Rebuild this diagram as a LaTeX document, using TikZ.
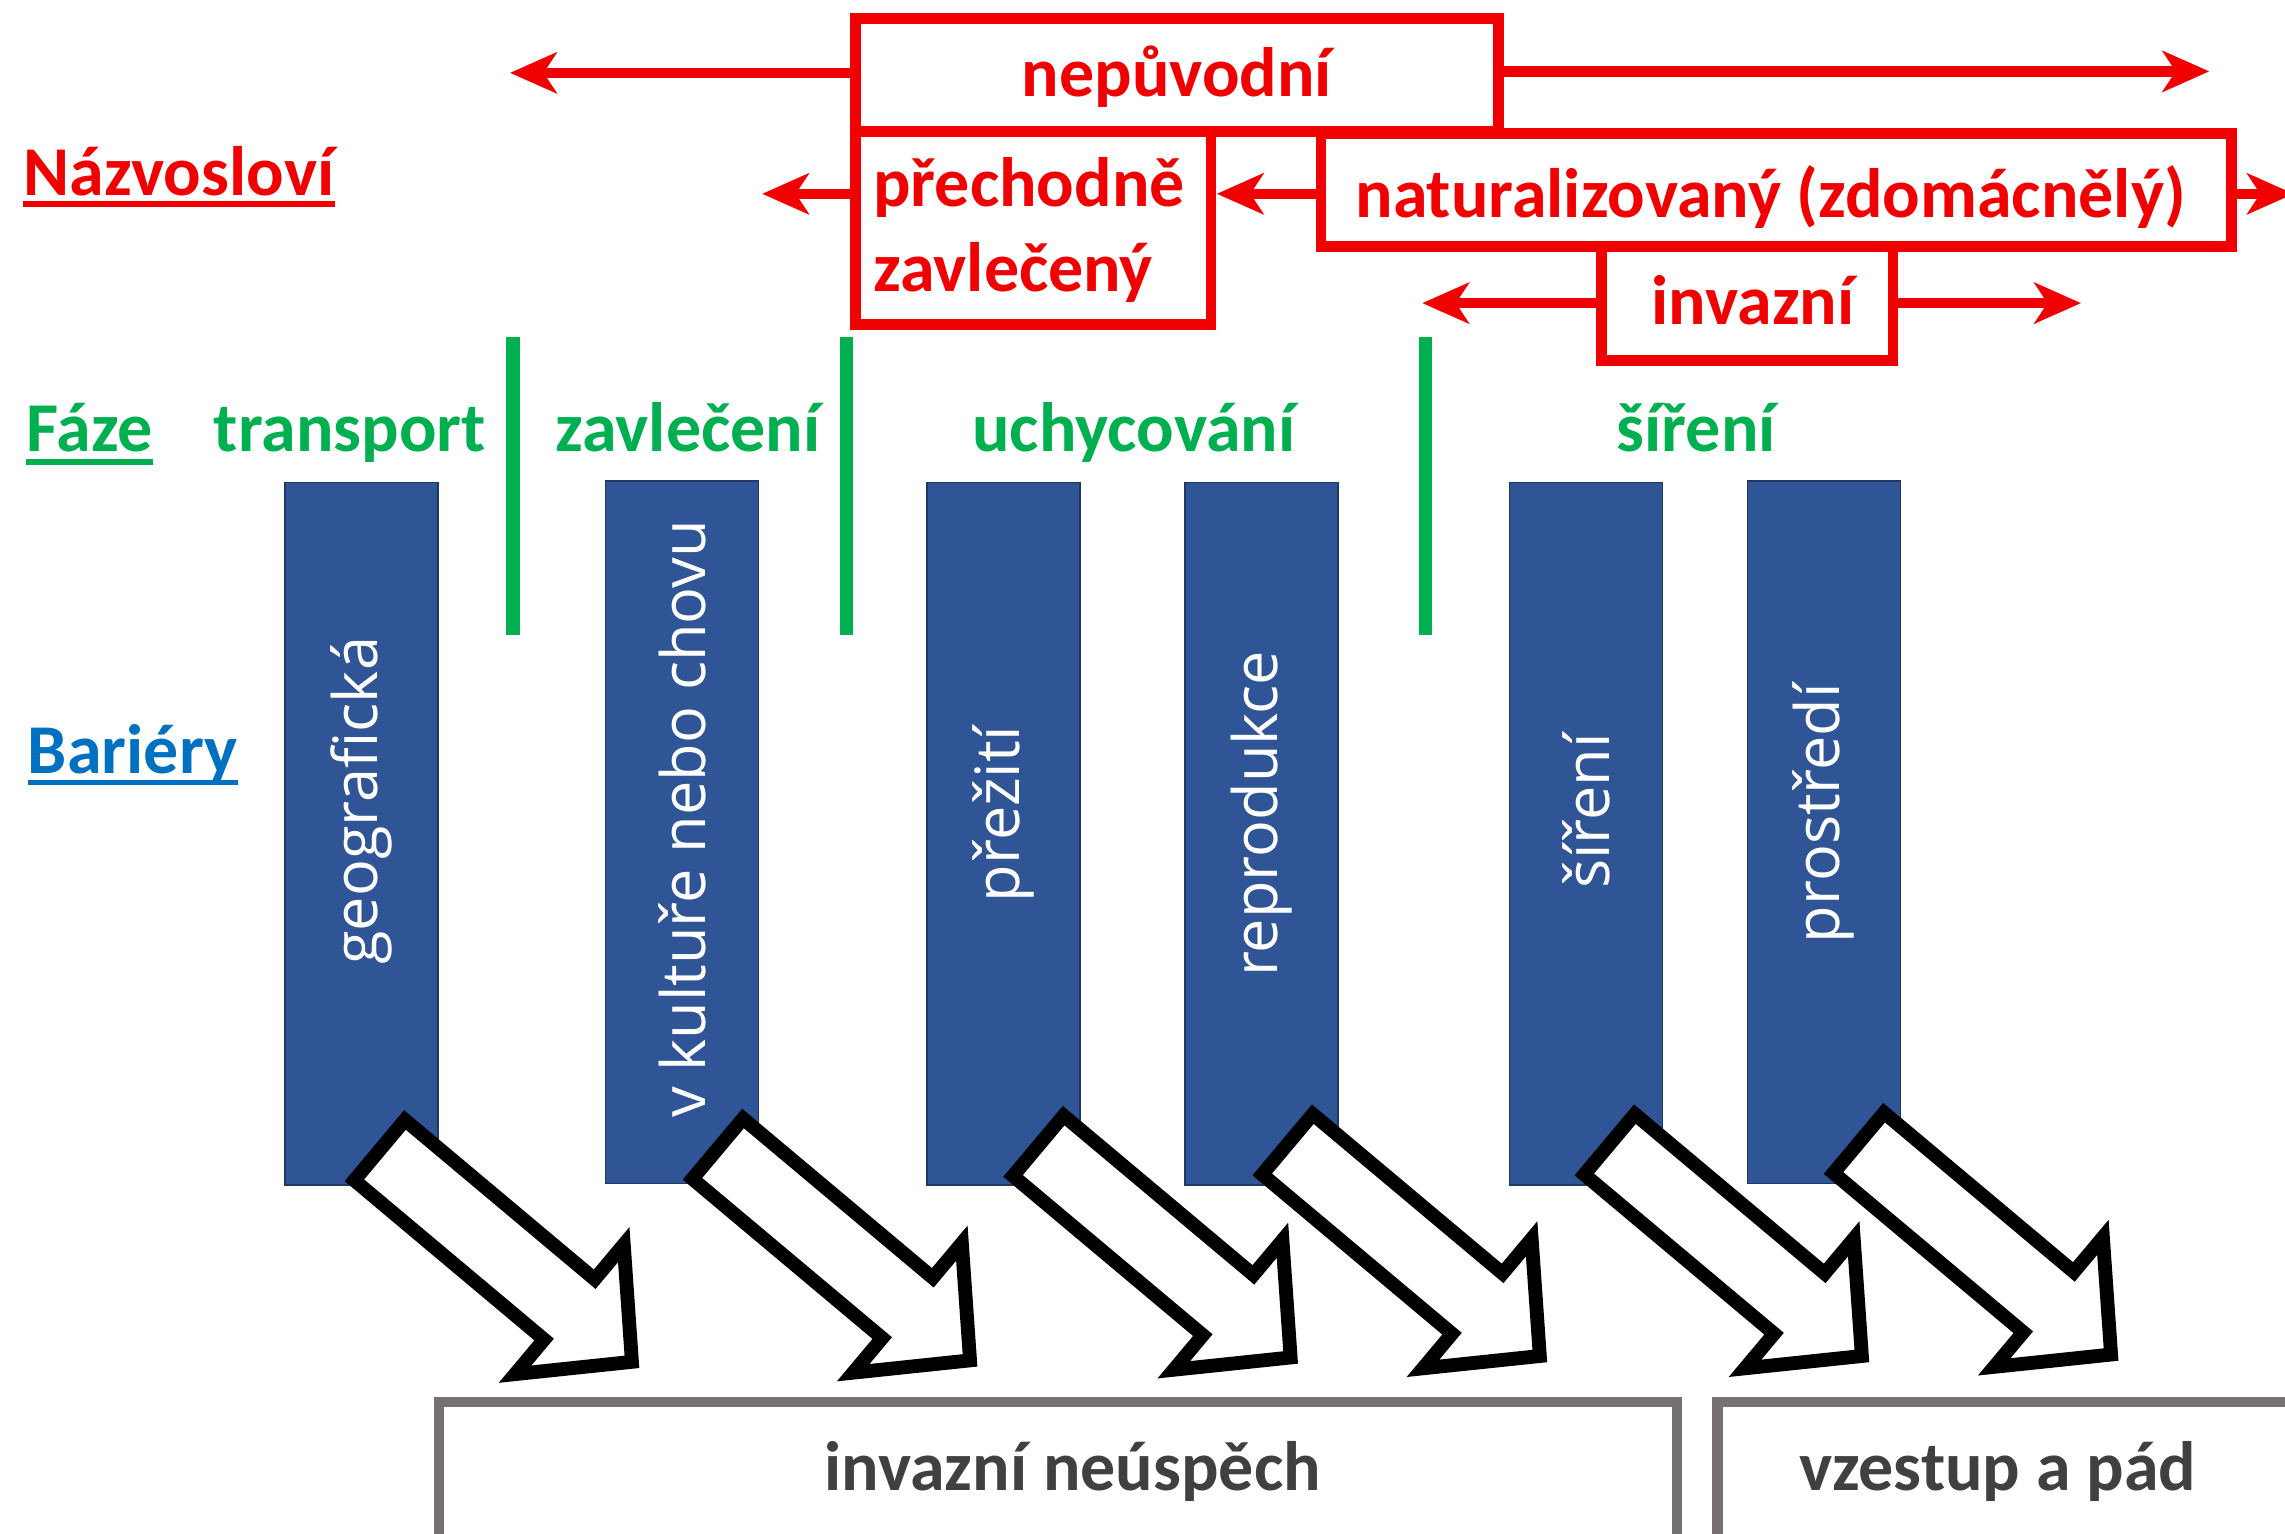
\documentclass[tikz,border=0pt]{standalone}
\usepackage{fontspec}
\setmainfont{Carlito}
\newfontfamily\barfont{Open Sans}
\usetikzlibrary{arrows.meta}
\definecolor{nred}{RGB}{240,0,0}
\definecolor{ngreen}{RGB}{0,176,80}
\definecolor{nblue}{RGB}{0,112,192}
\definecolor{barblue}{RGB}{47,85,151}
\definecolor{barline}{RGB}{32,56,100}
\definecolor{boxgray}{RGB}{118,113,113}
\definecolor{txtgray}{RGB}{64,64,64}
\begin{document}
\begin{tikzpicture}[x=1pt,y=-1pt,
  lbl/.style={inner sep=0pt, font=\fontsize{48}{58}\selectfont\bfseries, anchor=base},
  redlbl/.style={lbl, text=nred},
  greenlbl/.style={lbl, text=ngreen},
  redbox/.style={draw=nred, line width=7.5pt, inner sep=0pt},
  redarrow/.style={draw=nred, line width=7pt, -{Stealth[length=32pt,width=28pt,inset=9pt]}},
  gline/.style={draw=ngreen, line width=9pt},
  uline/.style={line width=3.5pt},
  bar/.style={fill=barblue, draw=barline, line width=1pt, minimum width=105pt, minimum height=482pt, inner sep=0pt},
  bartext/.style={text=white, font=\barfont\fontsize{42}{50}\selectfont, rotate=90, inner sep=0pt},
  hollow/.style={draw=black, fill=white, line width=9.5pt, line join=miter, miter limit=10},
  graybox/.style={draw=boxgray, line width=7pt, inner sep=0pt, anchor=north west},
  graylbl/.style={lbl, text=txtgray}
]
\useasboundingbox (0,0) rectangle (1568,1052);
\fill[white] (0,0) rectangle (1568,1052);
\clip (0,0) rectangle (1568,1052);

% row labels
\node[lbl, text=nred, anchor=base west] (hNaz) at (16,134) {Názvosloví};
\draw[uline, nred] ([yshift=-6pt]hNaz.base west) -- ([yshift=-6pt]hNaz.base east);
\node[lbl, text=ngreen, anchor=base west] (hFaz) at (18,310) {Fáze};
\draw[uline, ngreen] ([yshift=-7pt]hFaz.base west) -- ([yshift=-7pt]hFaz.base east);
\node[lbl, text=nblue, anchor=base west] (hBar) at (19,531) {Bariéry};
\draw[uline, nblue] ([yshift=-6pt]hBar.base west) -- ([yshift=-6pt]hBar.base east);

% red boxes
\node[redbox, minimum width=441pt, minimum height=77.5pt] (nep) at (807.5,51.25) {};
\node[redbox, minimum width=244pt, minimum height=132.5pt] (pre) at (709,156.25) {};
\node[redbox, minimum width=625pt, minimum height=77.5pt] (nat) at (1219,130.25) {};
\node[redbox, minimum width=200pt, minimum height=78.5pt] (inv) at (1199,208.25) {};

\node[redlbl] (nepT) at (807.5,66) {nepůvodní};
\node[redlbl, anchor=base west] (preT1) at (599,142) {přechodně};
\node[redlbl, anchor=base west] (preT2) at (599,200) {zavlečený};
\node[redlbl] (natT) at (1215,149) {naturalizovaný (zdomácnělý)};
\node[redlbl] (invT) at (1203,223) {invazní};

\coordinate (nepL) at (350,50);
\coordinate (nepR) at (1516,49);
\coordinate (preL) at (523,133);
\coordinate (preR) at (835,133);
\coordinate (natR) at (1574,133);
\coordinate (invL) at (976,208);
\coordinate (invR) at (1428,208);
\draw[redarrow] (nep.west |- nepL) -- (nepL);
\draw[redarrow] (nep.east |- nepR) -- (nepR);
\draw[redarrow] (pre.west |- preL) -- (preL);
\draw[redarrow] (nat.west |- preR) -- (preR);
\draw[redarrow] (nat.east |- natR) -- (natR);
\draw[redarrow] (inv.west |- invL) -- (invL);
\draw[redarrow] (inv.east |- invR) -- (invR);

% phases
\draw[gline] (352,231) -- (352,436);
\draw[gline] (581,231) -- (581,436);
\draw[gline] (978,231) -- (978,436);
\node[greenlbl] (fT) at (240,310) {transport};
\node[greenlbl] (fZ) at (472,310) {zavlečení};
\node[greenlbl] (fU) at (778,310) {uchycování};
\node[greenlbl] (fS) at (1164,310) {šíření};

% barriers
\node[bar] (b1) at (248,572) {};
\node[bar] (b2) at (468,571) {};
\node[bar] (b3) at (688.5,572) {};
\node[bar] (b4) at (865.5,572) {};
\node[bar] (b5) at (1088.5,572) {};
\node[bar] (b6) at (1251.5,571) {};
\node[bartext] (t1) at (b1 |- 0,549.5) {geografická};
\node[bartext] (t2) at (b2 |- 0,562) {v kultuře nebo chovu};
\node[bartext] (t3) at (b3 |- 0,558.5) {přežití};
\node[bartext] (t4) at (b4 |- 0,558.5) {reprodukce};
\node[bartext] (t5) at (b5 |- 0,556.5) {šíření};
\node[bartext] (t6) at (b6 |- 0,558) {prostředí};

% hollow arrows
\foreach \tx/\ty in {439/939, 671/938, 891/936, 1062/935, 1283/935, 1454/934}{
  \begin{scope}[shift={(\tx,\ty)}, rotate=-40]
    \draw[hollow] (-7,0) -- (-63,58) -- (-63,27) -- (-233,27) -- (-233,-27)
      -- (-63,-27) -- (-63,-58) -- cycle;
  \end{scope}
}

% outcome boxes
\node[graybox, minimum width=849.5pt, minimum height=200pt] (fail) at (297.5,958.5) {};
\node[graybox, minimum width=500pt, minimum height=200pt] (rise) at (1175,958.5) {};
\node[graylbl] (failT) at (736,1023) {invazní neúspěch};
\node[graylbl] (riseT) at (1371,1023) {vzestup a pád};
\end{tikzpicture}
\end{document}
